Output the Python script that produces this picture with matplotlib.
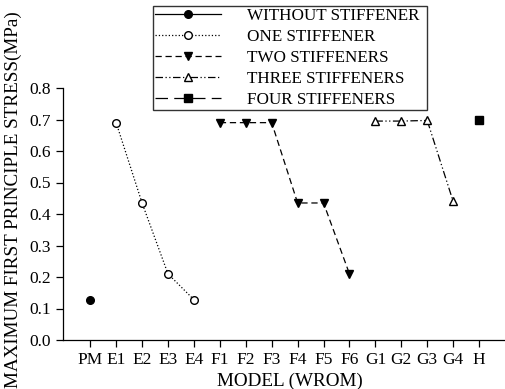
import matplotlib
matplotlib.use("Agg")
import matplotlib.pyplot as plt
import numpy as np

plt.rcParams['font.family'] = ['Liberation Serif', 'DejaVu Serif']

models = ["PM", "E1", "E2", "E3", "E4", "F1", "F2", "F3", "F4", "F5", "F6",
          "G1", "G2", "G3", "G4", "H"]

without_labels = ["PM"]
without_vals = [0.128]
one_labels = ["E1", "E2", "E3", "E4"]
one_vals = [0.690, 0.435, 0.210, 0.128]
two_labels = ["F1", "F2", "F3", "F4", "F5", "F6"]
two_vals = [0.690, 0.690, 0.690, 0.435, 0.435, 0.210]
three_labels = ["G1", "G2", "G3", "G4"]
three_vals = [0.695, 0.695, 0.697, 0.440]
four_labels = ["H"]
four_vals = [0.700]

y_ticks = [0.0, 0.1, 0.2, 0.3, 0.4, 0.5, 0.6, 0.7, 0.8]

fig = plt.figure(figsize=(5.05, 3.89), dpi=100)
ax = fig.add_axes([63 / 505, 1 - 340 / 389, 1 - 63 / 505, (340 - 88) / 389])

pos = {m: i for i, m in enumerate(models)}

def xs(labels):
    return [pos[m] for m in labels]

lw = 0.9
ms = 5.5
ax.plot(xs(without_labels), without_vals, '-', color='black', lw=lw,
        marker='o', ms=ms, mfc='black', label='WITHOUT STIFFENER')
ax.plot(xs(one_labels), one_vals, ':', color='black', lw=lw,
        marker='o', ms=ms, mfc='white', label='ONE STIFFENER')
ax.plot(xs(two_labels), two_vals, color='black', lw=lw, dashes=(5, 3),
        marker='v', ms=ms + 0.5, mfc='black', label='TWO STIFFENERS')
ax.plot(xs(three_labels), three_vals, color='black', lw=lw,
        dashes=(6, 2, 1, 2, 1, 2),
        marker='^', ms=ms + 0.5, mfc='white', label='THREE STIFFENERS')
ax.plot(xs(four_labels), four_vals, color='black', lw=lw, dashes=(10, 5),
        marker='s', ms=ms, mfc='black', label='FOUR STIFFENERS')

ax.set_xlim(-1.05, 16.0)
ax.set_ylim(0, 0.8)
ax.set_xticks(range(len(models)))
ax.set_xticklabels(models)
ax.set_yticks(y_ticks)
ax.set_yticklabels([f"{v:.1f}" for v in y_ticks])
ax.tick_params(direction='out', length=5, width=0.9, labelsize=12.5, pad=4)
for side in ('top', 'right'):
    ax.spines[side].set_visible(False)
for side in ('left', 'bottom'):
    ax.spines[side].set_linewidth(0.9)
ax.patch.set_alpha(0)

fig.text(13 / 505, 1 - 200 / 389, "MAXIMUM FIRST PRINCIPLE STRESS(MPa)",
         rotation=90, ha='center', va='center', fontsize=13.8)
fig.text(290 / 505, 1 - 381 / 389, "MODEL (WROM)", ha='center', va='center',
         fontsize=13.8)

leg = ax.legend(loc='lower left', bbox_to_anchor=(153 / 505, 1 - 110 / 389,
                                                  (427 - 153) / 505, 0.5),
                bbox_transform=fig.transFigure, mode='expand',
                fontsize=12.3, frameon=True, fancybox=False, handlelength=3.9,
                handletextpad=1.5, labelspacing=0.3, borderpad=0.1,
                borderaxespad=0)
leg.get_frame().set_edgecolor('black')
leg.get_frame().set_linewidth(1.0)

fig.savefig("out.png", dpi=100)
